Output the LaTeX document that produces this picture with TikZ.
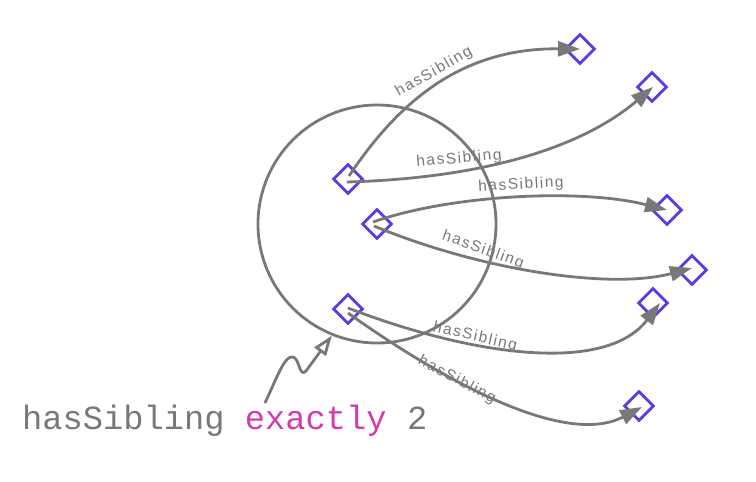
\documentclass[tikz,border=0pt]{standalone}
\usepackage{fontspec}
\usetikzlibrary{shapes.geometric,arrows.meta}
\newfontfamily\labfont{Liberation Sans}[LetterSpace=10]
\newfontfamily\codefont{Liberation Mono}
\definecolor{lgray}{HTML}{787878}
\definecolor{dpurple}{HTML}{5B3EE0}
\definecolor{kpink}{HTML}{D43BA9}
\begin{document}
\begin{tikzpicture}[x=1pt,y=-1pt,
  inst/.style={diamond, draw=dpurple, line width=2.8pt, minimum width=30pt, minimum height=30pt, inner sep=0pt, aspect=1},
  rel/.style={draw=lgray, line width=2.8pt, -{Triangle[length=22pt,width=15pt]}},
  lab/.style={font=\labfont\fontsize{15.5}{18}\selectfont, text=lgray, inner sep=0pt},
  squig/.style={draw=lgray, line width=2.8pt, -{Triangle[open,length=20pt,width=14pt]}},
]
\useasboundingbox (0,0) rectangle (756,482);
\node[circle, draw=lgray, line width=2.8pt, minimum size=238pt, inner sep=0pt] (circ) at (377,224) {};

\node[inst] (a) at (348,179) {};
\node[inst] (b) at (377,224) {};
\node[inst] (c) at (348,309) {};
\node[inst] (t1) at (580,49) {};
\node[inst] (t2) at (652,87) {};
\node[inst] (t3) at (667,210) {};
\node[inst] (t4) at (692,270) {};
\node[inst] (t5) at (653,303) {};
\node[inst] (t6) at (639,406) {};

\draw[rel] ([shift={(1,-3)}]a.center) .. controls (405,92) and (470,48) .. (t1.center);
\draw[rel] ([shift={(-1,3)}]a.center) .. controls (490,178) and (585,145) .. ([shift={(1,0)}]t2.center);
\draw[rel] ([shift={(-4,-2)}]b.center) .. controls (450,195) and (580,188) .. (t3.center);
\draw[rel] ([shift={(-3,2)}]b.center) .. controls (480,270) and (610,290) .. ([shift={(0,-2)}]t4.center);
\draw[rel] ([shift={(0,-1)}]c.center) .. controls (470,355) and (605,375) .. ([shift={(7,0)}]t5.center);
\draw[rel] ([shift={(0,4)}]c.center) .. controls (425,368) and (560,450) .. ([shift={(3,1)}]t6.center);

\node[lab, rotate=30] (l1) at (434,72) {hasSibling};
\node[lab, rotate=5] (l2) at (459,159) {hasSibling};
\node[lab, rotate=3] (l3) at (521,185) {hasSibling};
\node[lab, rotate=-20] (l4) at (483,250) {hasSibling};
\node[lab, rotate=-13] (l5) at (475,337) {hasSibling};
\node[lab, rotate=-28] (l6) at (457,380) {hasSibling};

\node[anchor=base west, inner sep=0pt, font=\codefont\fontsize{33.75}{40}\selectfont, text=lgray] (q) at (22,429) {hasSibling \textcolor{kpink}{exactly} 2};
\coordinate (s) at (265,403);
\draw[squig] (s) .. controls (278,375) and (285,355) .. (293,357) .. controls (300,359) and (299,378) .. (306,371) -- (circ.-112);
\end{tikzpicture}
\end{document}
